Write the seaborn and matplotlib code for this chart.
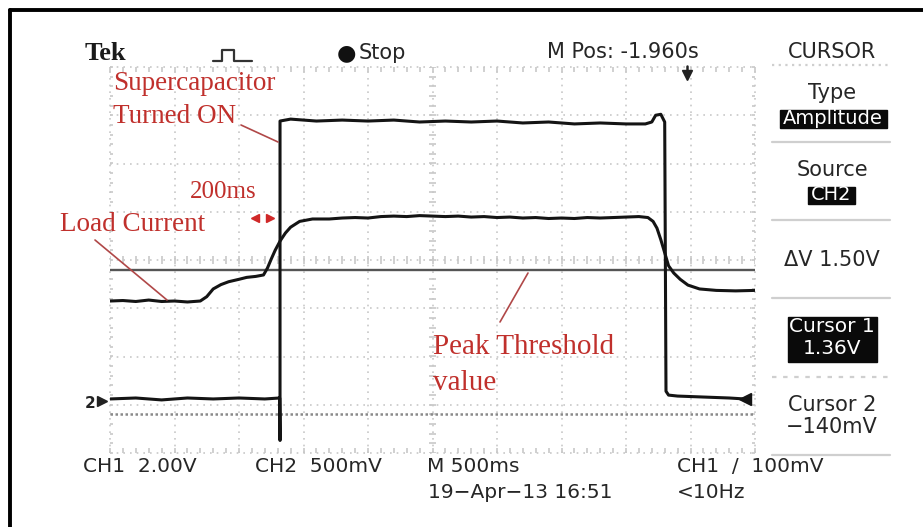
import matplotlib
matplotlib.use("Agg")
import matplotlib.pyplot as plt
import matplotlib.transforms as mtransforms
from matplotlib.lines import Line2D
from matplotlib.patches import Rectangle
import numpy as np
import pandas as pd
import seaborn as sns

# ---------------- data ----------------
time_per_div = 0.5          # M 500ms
n_xdiv, n_ydiv = 10, 8
ch2_volts_per_div = 0.5     # CH2 500mV
ch2_ground_div = -2.92      # position of CH2 ground marker (divisions from centre)

# Load current trace (screen divisions from centre)
load_t = [0.00, 0.10, 0.20, 0.30, 0.40, 0.50, 0.60, 0.70, 0.75, 0.80, 0.86, 0.92,
          1.00, 1.06, 1.13, 1.19, 1.22, 1.25, 1.28, 1.32, 1.36, 1.40, 1.47, 1.57,
          1.70, 1.80, 1.90, 2.00, 2.10, 2.20, 2.30, 2.40, 2.50, 2.60, 2.70, 2.80,
          2.90, 3.00, 3.10, 3.20, 3.30, 3.40, 3.50, 3.60, 3.70, 3.80, 3.90, 4.00,
          4.10, 4.17, 4.21, 4.24, 4.27, 4.30, 4.33, 4.37, 4.42, 4.48, 4.57, 4.70,
          4.85, 5.00]
load_div = [-0.85, -0.84, -0.86, -0.83, -0.86, -0.85, -0.87, -0.85, -0.76, -0.60, -0.51, -0.45,
            -0.40, -0.36, -0.34, -0.31, -0.17, 0.02, 0.20, 0.40, 0.56, 0.68, 0.80, 0.85,
            0.85, 0.87, 0.88, 0.87, 0.90, 0.91, 0.90, 0.92, 0.91, 0.90, 0.91, 0.89,
            0.90, 0.88, 0.89, 0.87, 0.88, 0.86, 0.87, 0.86, 0.88, 0.87, 0.88, 0.89,
            0.90, 0.88, 0.80, 0.66, 0.42, 0.15, -0.12, -0.27, -0.40, -0.52, -0.60, -0.63,
            -0.64, -0.63]

# Supercapacitor trace, CH2 volts
cap_t = [0.00, 0.20, 0.40, 0.60, 0.80, 1.00, 1.20, 1.315, 1.318, 1.318, 1.40, 1.60,
         1.80, 2.00, 2.20, 2.40, 2.60, 2.80, 3.00, 3.20, 3.40, 3.60, 3.80, 4.00,
         4.15, 4.20, 4.23, 4.27, 4.30, 4.31, 4.33, 4.40, 4.60, 4.80, 4.92]
cap_v = [0.02, 0.03, 0.01, 0.03, 0.02, 0.03, 0.02, 0.03, -0.41, 2.90, 2.92, 2.90,
         2.91, 2.90, 2.91, 2.89, 2.90, 2.89, 2.90, 2.88, 2.89, 2.87, 2.88, 2.87,
         2.87, 2.89, 2.96, 2.97, 2.89, 0.10, 0.06, 0.05, 0.04, 0.03, 0.02]

cursor_volts = [1.36, -0.14]   # Cursor 1, Cursor 2

# ---------------- figure ----------------
W, H = 923, 527
sns.set_theme(style="white")
plt.rcParams['font.family'] = ['DejaVu Sans']
fig = plt.figure(figsize=(W / 100, H / 100), dpi=100)
fig.patch.set_facecolor('white')
px = mtransforms.Affine2D().scale(1 / W, -1 / H).translate(0, 1) + fig.transFigure

L, R, T, B = 110, 755, 67, 453
ax = fig.add_axes([L / W, 1 - B / H, (R - L) / W, (B - T) / H])
xmax = n_xdiv * time_per_div

# graticule
gc = '#c8c8c8'
for k in range(0, n_xdiv + 1):
    ax.axvline(k * time_per_div, color=gc, lw=1.2, ls=(0, (1, 3)), zorder=0, clip_on=False)
for k in range(-n_ydiv // 2, n_ydiv // 2 + 1):
    ax.axhline(k, color=gc, lw=1.2, ls=(0, (1, 3)), zorder=0, clip_on=False)
mx = np.arange(0, xmax + 1e-9, time_per_div / 5)
my = np.arange(-n_ydiv / 2, n_ydiv / 2 + 1e-9, 0.2)
ax.vlines(mx, -0.09, 0.09, color=gc, lw=1.2, zorder=0)
ax.hlines(my, xmax / 2 - 0.025, xmax / 2 + 0.025, color=gc, lw=1.2, zorder=0)
ax.vlines(mx, -4, -3.9, color=gc, lw=1.2, zorder=0, clip_on=False)
ax.vlines(mx, 3.9, 4, color=gc, lw=1.2, zorder=0, clip_on=False)
ax.hlines(my, 0, 0.025, color=gc, lw=1.2, zorder=0, clip_on=False)
ax.hlines(my, xmax - 0.025, xmax, color=gc, lw=1.2, zorder=0, clip_on=False)

# cursors (CH2)
c_div = [ch2_ground_div + v / ch2_volts_per_div for v in cursor_volts]
ax.axhline(c_div[0], color='#555555', lw=1.7, zorder=2)
ax.axhline(c_div[1], color='#8a8a8a', lw=1.8, ls=(0, (1, 1)), zorder=2)

# traces
load_df = pd.DataFrame({'t': load_t, 'div': load_div})
cap_df = pd.DataFrame({'t': cap_t, 'div': [ch2_ground_div + v / ch2_volts_per_div for v in cap_v]})
sns.lineplot(data=load_df, x='t', y='div', ax=ax, color='#141414', lw=2.2,
             sort=False, estimator=None, zorder=3)
sns.lineplot(data=cap_df, x='t', y='div', ax=ax, color='#141414', lw=2.2,
             sort=False, estimator=None, zorder=3)
ax.set_xlim(0, xmax)
ax.set_ylim(-n_ydiv / 2, n_ydiv / 2)
ax.axis('off')
ax.plot([cap_df['t'].iloc[-1]], [cap_df['div'].iloc[-1]], marker='<', ms=8, color='#141414',
        clip_on=False, zorder=4)
# ground marker "2"
ax.plot([-0.06], [ch2_ground_div], marker='>', ms=7, color='#222222', clip_on=False)
fig.text(85, 403, '2', transform=px, size=11, weight='bold', color='#222222', va='center')

# ---------------- scope text ----------------
tc = '#262626'
def T_(x, y, s, size=14.5, ha='left', color=tc, **kw):
    fig.text(x, y, s, transform=px, size=size, ha=ha, va='center', color=color, **kw)

fig.text(85, 53, 'Tek', transform=px, size=19, weight='bold', family='Liberation Serif',
         va='center', color='#1a1a1a')
fig.add_artist(Line2D([213, 222, 222, 234, 234, 252], [61, 61, 50, 50, 61, 61],
                      transform=px, color='#333333', lw=1.6))
T_(337, 53, '●', size=16, color='#111111')
T_(359, 53, 'Stop', size=15)
T_(547, 52, 'M Pos: -1.960s', size=15)
fig.add_artist(Line2D([687, 687], [66, 73], transform=px, color='#222222', lw=1.8))
fig.add_artist(Line2D([687], [75], transform=px, marker='v', ms=7, color='#222222'))

# right menu
cx = 832
T_(cx, 52, 'CURSOR', size=15, ha='center')
T_(cx, 93, 'Type', size=15, ha='center')
fig.add_artist(Rectangle((780, 110), 107, 18, transform=px, color='#0a0a0a'))
T_(833, 119, 'Amplitude', size=14, ha='center', color='white')
T_(cx, 170, 'Source', size=15, ha='center')
fig.add_artist(Rectangle((808, 187), 47, 17, transform=px, color='#0a0a0a'))
T_(831, 195, 'CH2', size=14, ha='center', color='white')
T_(cx, 260, 'ΔV 1.50V', size=15, ha='center')
fig.add_artist(Rectangle((788, 317), 89, 45, transform=px, color='#0a0a0a'))
T_(cx, 327, 'Cursor 1', size=14.5, ha='center', color='white')
T_(cx, 348, '1.36V', size=14.5, ha='center', color='white')
T_(cx, 405, 'Cursor 2', size=15, ha='center')
T_(cx, 427, '−140mV', size=15, ha='center')
for yy, st in [(65, (0, (1, 2))), (142, '-'), (220, '-'), (298, '-'), (377, (0, (2, 3))), (455, '-')]:
    fig.add_artist(Line2D([772, 890], [yy, yy], transform=px, color='#cfcfcf', lw=1.6, ls=st))

# bottom status
T_(83, 467, 'CH1  2.00V', size=14.5)
T_(255, 467, 'CH2  500mV', size=14.5)
T_(427, 467, 'M 500ms', size=14.5)
T_(428, 493, '19−Apr−13 16:51', size=14.5)
T_(677, 467, 'CH1  /  100mV', size=14.5)
T_(677, 493, '<10Hz', size=14.5)

# ---------------- red annotations ----------------
rc = '#c0302c'
lc = '#b04848'
def R_(x, y, s, size=19.5):
    fig.text(x, y, s, transform=px, size=size, ha='left', va='baseline', color=rc,
             family='Liberation Serif')

R_(113, 90, 'Supercapacitor')
R_(113, 123, 'Turned ON')
fig.add_artist(Line2D([241, 278], [125, 142], transform=px, color=lc, lw=1.2))
R_(190, 198, '200ms', size=18)
fig.add_artist(Line2D([255], [218], transform=px, marker='<', ms=6, color='#d02828', lw=0))
fig.add_artist(Line2D([270], [218], transform=px, marker='>', ms=6, color='#d02828', lw=0))
R_(60, 231, 'Load Current')
fig.add_artist(Line2D([95, 167], [240, 300], transform=px, color=lc, lw=1.2))
R_(433, 354, 'Peak Threshold', size=21)
R_(433, 390, 'value', size=21)
fig.add_artist(Line2D([528, 500], [273, 322], transform=px, color=lc, lw=1.2))

# outer frame (top and left)
fig.add_artist(Line2D([9.5, 923], [9.5, 9.5], transform=px, color='black', lw=2.8))
fig.add_artist(Line2D([9.5, 9.5], [9.5, 527], transform=px, color='black', lw=2.8))

fig.savefig('out.png', dpi=100, facecolor='white')
